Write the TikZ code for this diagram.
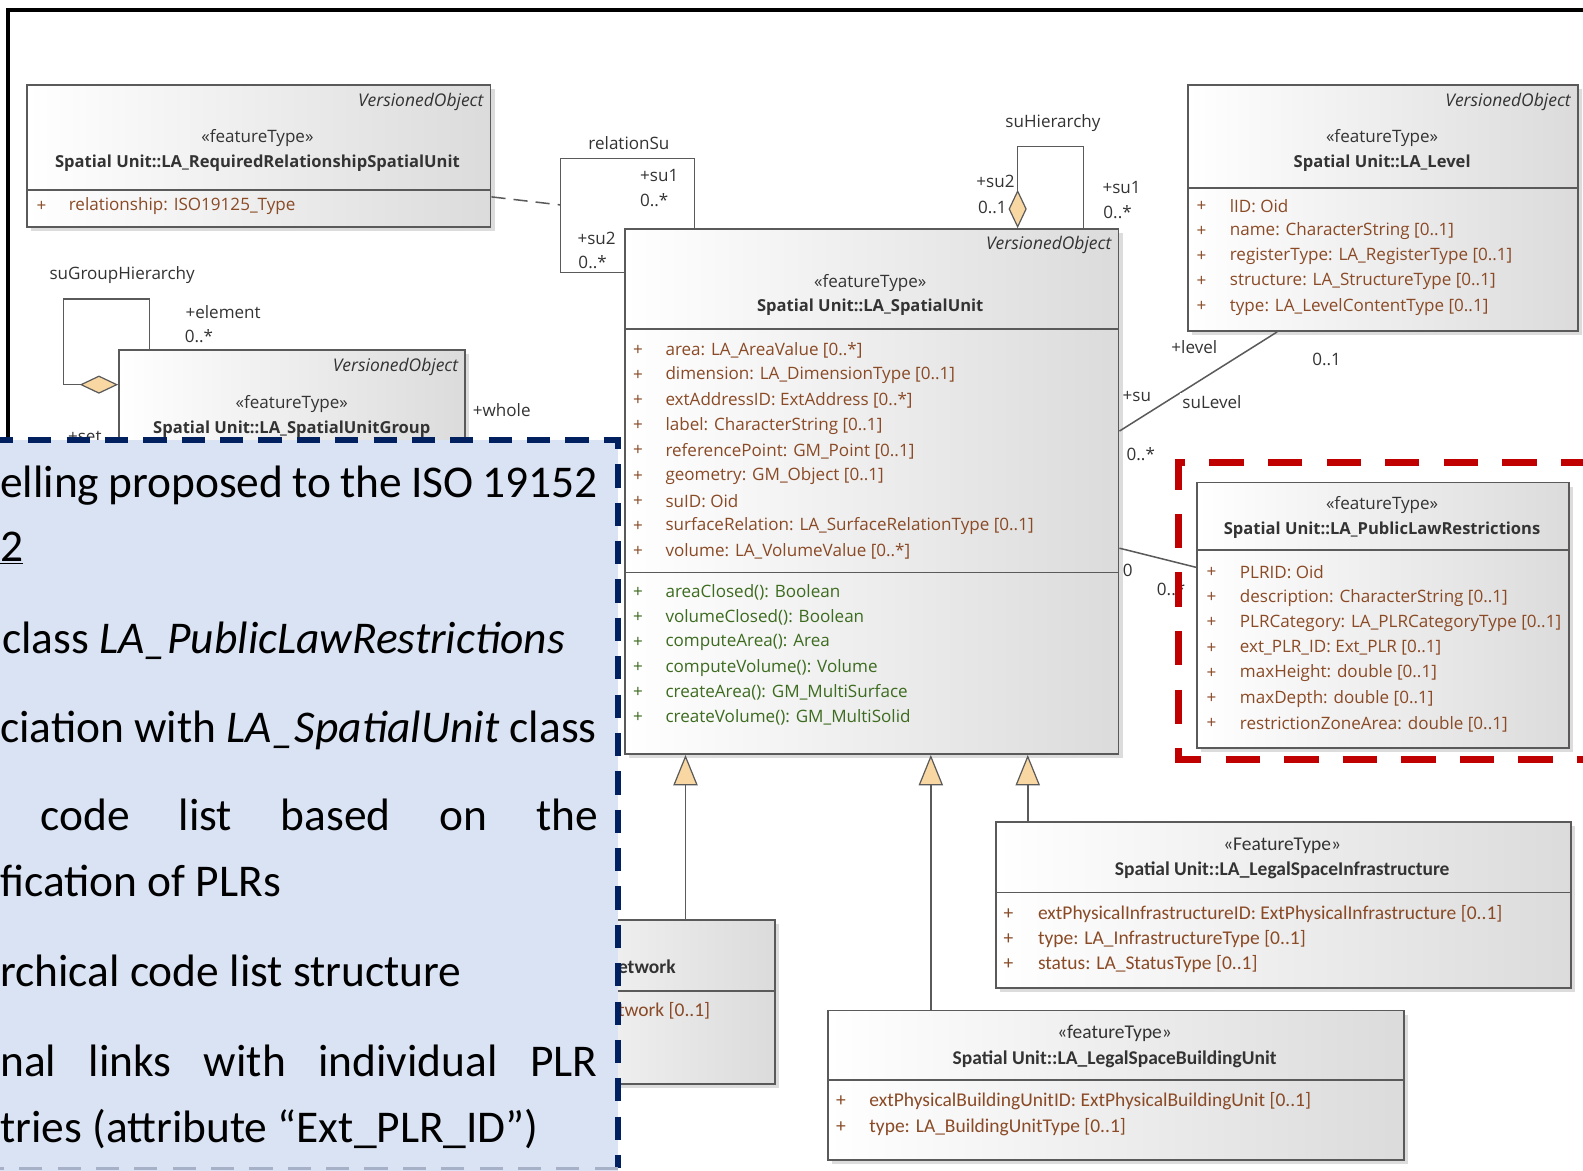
\documentclass[tikz,border=0pt]{standalone}
\usepackage{fontspec}
\setmainfont{Open Sans}
\newfontfamily\calib{Carlito}
\usepackage{tikz}
\usetikzlibrary{arrows.meta, shadows, calc}
\definecolor{umlgray}{HTML}{5A5A5A}
\definecolor{ink}{HTML}{333333}
\definecolor{attrbrown}{HTML}{8A4A26}
\definecolor{opgreen}{HTML}{3D6B1F}
\definecolor{peach}{HTML}{F8D7A3}
\definecolor{plrred}{HTML}{C00000}
\definecolor{navy}{HTML}{002060}
\definecolor{noteblue}{HTML}{DAE3F3}

\begin{document}
\begin{tikzpicture}[x=1pt, y=-1pt,
    cls/.style={draw=umlgray, line width=1.8pt, left color=white, right color=black!14,
        anchor=north west, inner sep=0pt,
        drop shadow={shadow xshift=4pt, shadow yshift=-4pt, fill=black!30, opacity=0.45}},
    divline/.style={draw=umlgray, line width=1.8pt},
    umlfont/.style={font=\fontsize{16.9}{20}\selectfont},
    vo/.style={font=\fontsize{17.3}{20}\selectfont\itshape, text=ink, anchor=east, inner sep=0pt},
    stereo/.style={umlfont, text=ink, inner sep=0pt},
    title/.style={font=\fontsize{16.4}{20}\selectfont\bfseries, text=ink, inner sep=0pt},
    attr/.style={umlfont, text=attrbrown, anchor=west, inner sep=0pt},
    plus/.style={attr, anchor=center},
    oper/.style={attr, text=opgreen},
    opplus/.style={plus, text=opgreen},
    lsstereo/.style={font=\calib\fontsize{19.3}{22}\selectfont, text=ink, inner sep=0pt},
    lstitle/.style={font=\calib\fontsize{19.3}{22}\selectfont\bfseries, text=ink, inner sep=0pt},
    lsattr/.style={font=\calib\fontsize{19.3}{22}\selectfont, text=attrbrown, anchor=west, inner sep=0pt},
    lsplus/.style={lsattr, anchor=center},
    lbl/.style={umlfont, text=ink, inner sep=0pt},
    assoc/.style={draw=umlgray, line width=1.5pt},
    gen/.style={assoc, -{Triangle[length=30pt, width=24pt, fill=peach, line width=1.2pt]}},
    agg/.style={assoc, -{Diamond[length=38pt, width=18pt, fill=peach, line width=1.2pt]}},
    notetext/.style={font=\calib\fontsize{45}{48}\selectfont, text=black, anchor=base west, inner sep=0pt}]
    \useasboundingbox (0,0) rectangle (1568,1159);

    % Black frame
    \draw[line width=4.5pt] (8,440) -- (8,10) -- (1580,10);

    % Classes
    \node[cls, minimum width=343, minimum height=200] (sug) at (117,346) {};
    \node[cls, minimum width=297, minimum height=163] (net) at (470,910) {};
    \node[cls, minimum width=459, minimum height=141] (rrsu) at (26,83) {};
    \node[cls, minimum width=489, minimum height=520] (su) at (618,226) {};
    \node[cls, minimum width=386, minimum height=244] (lvl) at (1176,83) {};
    \node[cls, minimum width=368, minimum height=263] (plr) at (1185,477) {};
    \node[cls, minimum width=569, minimum height=165] (lsi) at (986,813) {};
    \node[cls, minimum width=571, minimum height=148] (lsbu) at (819,1000) {};

    % Compartment lines
    \draw[divline] (rrsu.west |- 0,188) -- (rrsu.east |- 0,188);
    \draw[divline] (su.west |- 0,326) -- (su.east |- 0,326);
    \draw[divline] (su.west |- 0,567) -- (su.east |- 0,567);
    \draw[divline] (lvl.west |- 0,186) -- (lvl.east |- 0,186);
    \draw[divline] (plr.west |- 0,545) -- (plr.east |- 0,545);
    \draw[divline] (lsi.west |- 0,884) -- (lsi.east |- 0,884);
    \draw[divline] (lsbu.west |- 0,1070) -- (lsbu.east |- 0,1070);
    \draw[divline] (net.west |- 0,982) -- (net.east |- 0,982);

    % LA_RequiredRelationshipSpatialUnit
    \node[vo] (rrsuvo) at (479,101) {VersionedObject};
    \node[stereo] (rrsust) at (255,137) {«featureType»};
    \node[title] (rrsuti) at (255,162) {Spatial Unit::LA\_RequiredRelationshipSpatialUnit};
    \node[plus] (rrsup) at (41,204) {+};
    \node[attr] (rrsua) at (68,204) {relationship: ISO19125\_Type};

    % LA_SpatialUnit
    \node[vo] (suvo) at (1101,243) {VersionedObject};
    \node[stereo] (sust) at (862,280) {«featureType»};
    \node[title] (suti) at (862,304) {Spatial Unit::LA\_SpatialUnit};
    \foreach \a [count=\i from 0] in {{area: LA\_AreaValue [0..*]}, {dimension: LA\_DimensionType [0..1]},
        {extAddressID: ExtAddress [0..*]}, {label: CharacterString [0..1]},
        {referencePoint: GM\_Point [0..1]}, {geometry: GM\_Object [0..1]}, {suID: Oid},
        {surfaceRelation: LA\_SurfaceRelationType [0..1]}, {volume: LA\_VolumeValue [0..*]}} {
        \node[plus] at (632,347+24.9*\i) {+};
        \node[attr] (sua\i) at (659,347+24.9*\i) {\a};
    }
    \foreach \a [count=\i from 0] in {{areaClosed(): Boolean}, {volumeClosed(): Boolean},
        {computeArea(): Area}, {computeVolume(): Volume},
        {createArea(): GM\_MultiSurface}, {createVolume(): GM\_MultiSolid}} {
        \node[opplus] at (632,587+24.8*\i) {+};
        \node[oper] (suo\i) at (659,587+24.8*\i) {\a};
    }

    % LA_Level
    \node[vo] (lvlvo) at (1556,101) {VersionedObject};
    \node[stereo] (lvlst) at (1369,137) {«featureType»};
    \node[title] (lvlti) at (1369,162) {Spatial Unit::LA\_Level};
    \foreach \a [count=\i from 0] in {{lID: Oid}, {name: CharacterString [0..1]},
        {registerType: LA\_RegisterType [0..1]}, {structure: LA\_StructureType [0..1]},
        {type: LA\_LevelContentType [0..1]}} {
        \node[plus] at (1190,204+25*\i) {+};
        \node[attr] (lvla\i) at (1218,204+25*\i) {\a};
    }

    % LA_PublicLawRestrictions
    \node[stereo] (plrst) at (1369,500) {«featureType»};
    \node[title] (plrti) at (1369,525) {Spatial Unit::LA\_PublicLawRestrictions};
    \foreach \a [count=\i from 0] in {{PLRID: Oid}, {description: CharacterString [0..1]},
        {PLRCategory: LA\_PLRCategoryType [0..1]}, {ext\_PLR\_ID: Ext\_PLR [0..1]},
        {maxHeight: double [0..1]}, {maxDepth: double [0..1]},
        {restrictionZoneArea: double [0..1]}} {
        \node[plus] at (1200,567+25*\i) {+};
        \node[attr] (plra\i) at (1228,567+25*\i) {\a};
    }

    % LA_LegalSpaceInfrastructure
    \node[lsstereo] (lsist) at (1270,838) {«FeatureType»};
    \node[lstitle] (lsiti) at (1270,862) {Spatial Unit::LA\_LegalSpaceInfrastructure};
    \foreach \a [count=\i from 0] in {{extPhysicalInfrastructureID: ExtPhysicalInfrastructure [0..1]},
        {type: LA\_InfrastructureType [0..1]}, {status: LA\_StatusType [0..1]}} {
        \node[lsplus] at (999,905+25*\i) {+};
        \node[lsattr] (lsia\i) at (1028,905+25*\i) {\a};
    }

    % LA_LegalSpaceBuildingUnit
    \node[lsstereo] (lsbust) at (1104,1024) {«featureType»};
    \node[lstitle] (lsbuti) at (1104,1049) {Spatial Unit::LA\_LegalSpaceBuildingUnit};
    \foreach \a [count=\i from 0] in {{extPhysicalBuildingUnitID: ExtPhysicalBuildingUnit [0..1]},
        {type: LA\_BuildingUnitType [0..1]}} {
        \node[lsplus] at (833,1091+25*\i) {+};
        \node[lsattr] (lsbua\i) at (861,1091+25*\i) {\a};
    }

    % LA_SpatialUnitGroup and network (partly covered)
    \node[vo] (sugvo) at (454,363) {VersionedObject};
    \node[stereo] (sugst) at (289,400) {«featureType»};
    \node[title] (sugti) at (289,425) {Spatial Unit::LA\_SpatialUnitGroup};
    \node[lstitle, anchor=west] (netti) at (612,958) {etwork};
    \node[lsattr] (neta) at (612,1001) {twork [0..1]};

    % Generalisations
    \draw[gen] ($(net.north west)+(209,0)$) -- ($(su.south west)+(61,0)$);
    \draw[gen] ($(lsbu.north west)+(103,0)$) -- ($(su.south west)+(304,0)$);
    \draw[gen] ($(lsi.north west)+(32,0)$) -- ($(su.south west)+(400,0)$);

    % relationSu
    \coordinate (rsucorner) at (555,157);
    \coordinate (rsulink) at (555,203);
    \draw[assoc] ($(su.north west)+(70,0)$) |- (rsucorner) |- ($(su.north west)+(0,44)$);
    \draw[assoc, dash pattern=on 14pt off 8pt] ($(rrsu.north east)+(0,112)$) -- (rsulink);
    \node[lbl] (rsuname) at (623,142) {relationSu};
    \node[lbl] (rsusu1) at (653,174) {+su1};
    \node[lbl] (rsum1) at (648,198) {0..*};
    \node[lbl] (rsusu2) at (591,236) {+su2};
    \node[lbl] (rsum2) at (587,260) {0..*};

    % suHierarchy
    \draw[agg] ($(su.north west)+(455,0)$) -- ++(0,-81) -| ($(su.north west)+(390,0)$);
    \node[lbl] (suhname) at (1043,122) {suHierarchy};
    \node[lbl] (suhsu2) at (986,180) {+su2};
    \node[lbl] (suhm2) at (983,205) {0..1};
    \node[lbl] (suhsu1) at (1111,186) {+su1};
    \node[lbl] (suhm1) at (1107,210) {0..*};

    % suGroupHierarchy
    \draw[agg] ($(sug.north west)+(31,0)$) -- ++(0,-50) -- ++(-85,0) |- ($(sug.north west)+(0,35)$);
    \node[lbl] (sghname) at (121,272) {suGroupHierarchy};
    \node[lbl] (sghel) at (221,309) {+element};
    \node[lbl] (sghm) at (197,333) {0..*};
    \node[lbl] (sghwhole) at (497,406) {+whole};
    \node[lbl] (sghset) at (84,433) {+set};

    % suLevel
    \draw[assoc] ($(su.north east)+(0,201)$) -- ($(lvl.south west)+(89,0)$);
    \node[lbl] (sllevel) at (1183,344) {+level};
    \node[lbl] (slm1) at (1314,356) {0..1};
    \node[lbl] (slsu) at (1126,393) {+su};
    \node[lbl, fill=white, inner sep=2pt, anchor=west] (slname) at (1169,398) {suLevel};
    \node[lbl] (slm2) at (1130,450) {0..*};

    % PLR association
    \draw[assoc] ($(su.north east)+(0,317)$) -- ($(plr.north west)+(0,85)$);
    \node[lbl] (plrm1) at (1117,565) {0};
    \node[lbl] (plrm2) at (1160,584) {0..*};

    % Red highlight
    \draw[plrred, line width=7pt, dash pattern=on 34pt off 24pt] (1580,458) -- (1167,458) -- (1167,752) -- (1580,752);

    % Note box
    \fill[noteblue] (-10,436) rectangle (612,1165);
    \draw[navy, line width=5.5pt, dash pattern=on 23pt off 15pt] (-10,436) -- (612,436) -- (612,1157);
    \draw[navy!35, line width=3pt, dash pattern=on 23pt off 15pt] (612,1157) -- (-10,1157);
    \node[notetext] (n1) at (0,493) {\hbox to 592pt{elling\hfill proposed\hfill to\hfill the\hfill ISO\hfill 19152}};
    \node[notetext] (n2) at (0,556) {\underline{2}};
    \node[notetext] (n3) at (2,647) {class \textit{LA\_PublicLawRestrictions}};
    \node[notetext] (n4) at (0,735) {ciation with \textit{LA\_SpatialUnit} class};
    \node[notetext] (n5) at (40,823) {\hbox to 552pt{code\hfill list\hfill based\hfill on\hfill the}};
    \node[notetext] (n6) at (0,888) {fication of PLRs};
    \node[notetext] (n7) at (0,977) {rchical code list structure};
    \node[notetext] (n8) at (0,1066) {\hbox to 592pt{nal\hfill links\hfill with\hfill individual\hfill PLR}};
    \node[notetext] (n9) at (0,1132) {tries (attribute “Ext\_PLR\_ID”)};
\end{tikzpicture}
\end{document}
